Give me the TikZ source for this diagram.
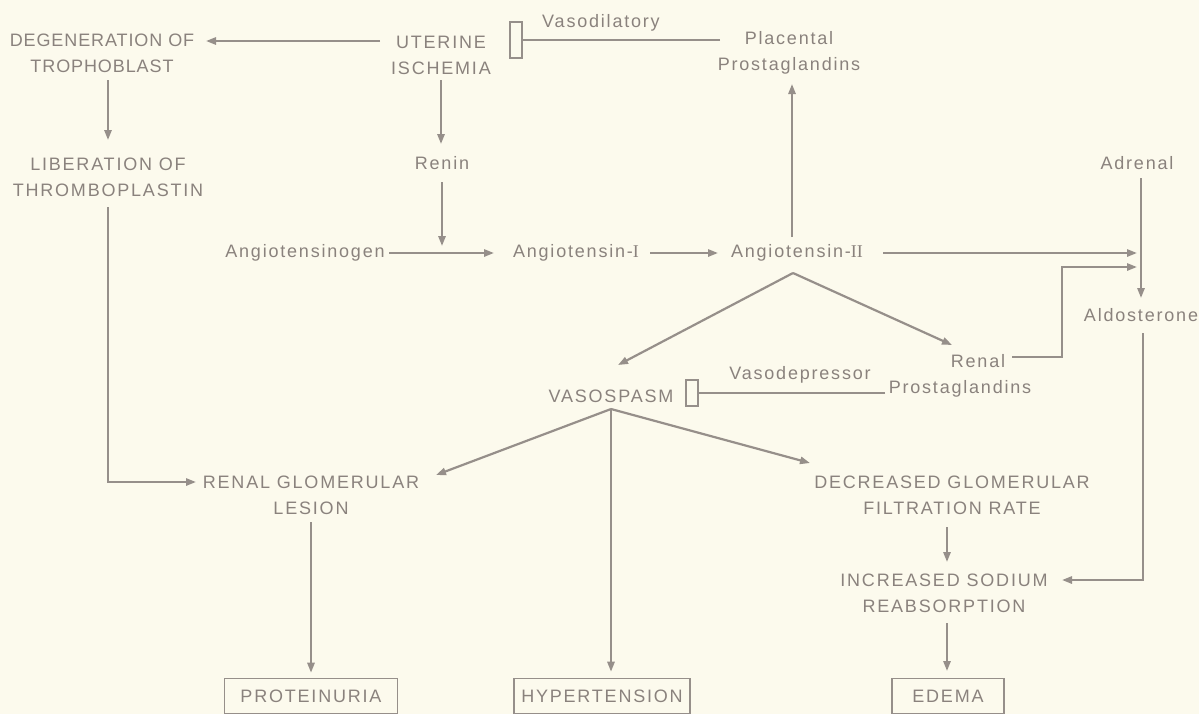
\documentclass[tikz,border=0pt]{standalone}
\usepackage{fontspec}
\setmainfont[LetterSpace=10]{Liberation Sans}
\newfontfamily\romf{Liberation Serif}
\usetikzlibrary{arrows.meta,calc}
\definecolor{bgc}{RGB}{252,250,237}
\definecolor{inkc}{RGB}{138,130,125}
\definecolor{linec}{RGB}{150,143,138}
\begin{document}
\begin{tikzpicture}[x=0.5pt,y=-0.5pt,
  every node/.style={text=inkc,font=\fontsize{9}{13}\selectfont,inner sep=0pt,align=center},
  tight/.style={font=\fontsize{9}{13}\selectfont\addfontfeatures{LetterSpace=5}},
  outbox/.style={draw=linec,line width=0.8pt,minimum height=17.5pt},
  ibox/.style={draw=linec,line width=0.8pt,minimum width=6pt},
  conn/.style={draw=linec,line width=1.1pt},
  arr/.style={conn,-{Triangle[length=5pt,width=3.6pt]}}]
\fill[bgc] (0,0) rectangle (1199,714);
\useasboundingbox (0,0) rectangle (1199,714);
% nodes
\node[tight] (deg) at (102,53) {DEGENERATION OF\\TROPHOBLAST};
\node (ut) at (441,55) {UTERINE\\ISCHEMIA};
\node[ibox,minimum height=18pt] (ib1) at (516,40) {};
\node (vdil) at (601,23) {Vasodilatory};
\node (plac) at (789,53) {Placental\\Prostaglandins};
\node (lib) at (108,177) {LIBERATION OF\\THROMBOPLASTIN};
\node (renin) at (442,163) {Renin};
\node (agen) at (305,253) {Angiotensinogen};
\node (a1) at (576,253) {Angiotensin-{\romf I}};
\node (a2) at (797,253) {Angiotensin-{\romf II}};
\node (adr) at (1137,163) {Adrenal};
\node (aldo) at (1141,315) {Aldosterone};
\node (vaso) at (611,396) {VASOSPASM};
\node[ibox,minimum height=13pt] (ib2) at (692,393) {};
\node (vdep) at (800,375) {Vasodepressor};
\node (rp) at (960,376) {\hspace*{18pt}Renal\\Prostaglandins};
\node (rgl) at (311,495) {RENAL GLOMERULAR\\LESION};
\node (dgfr) at (952,495) {DECREASED GLOMERULAR\\FILTRATION RATE};
\node (isr) at (944,593) {INCREASED SODIUM\\REABSORPTION};
\node[outbox,minimum width=86.5pt] (prot) at (311,696) {PROTEINURIA};
\node[outbox,minimum width=88pt] (hyp) at (602,696) {HYPERTENSION};
\node[outbox,minimum width=56pt] (edema) at (948,696) {EDEMA};
% coordinates
\coordinate (apx) at ($(a2)+(-4,20)$);
\coordinate (vpx) at ($(vaso)+(0,13)$);
% connectors
\draw[arr] ($(ut)+(-61,-14)$) -- ($(deg)+(104,-12)$);
\draw[arr] ($(ut)+(0,25)$) -- ($(renin)+(-1,-19)$);
\draw[arr] ($(deg)+(6,27)$) -- ($(lib)+(0,-37)$);
\draw[arr] ($(lib)+(0,30)$) |- ($(rgl)+(-115,-13)$);
\draw[conn] ($(plac)+(-69,-13)$) -- (ib1.east);
\draw[arr] ($(a2)+(-5,-16)$) -- ($(plac)+(3,31)$);
\draw[arr,shorten >=3.5pt] ($(renin)+(0,19)$) -- (renin |- agen);
\draw[arr] ($(agen)+(84,0)$) -- ($(a1)+(-82,0)$);
\draw[arr] ($(a1)+(74,0)$) -- ($(a2)+(-79,0)$);
\draw[arr] ($(a2)+(86,0)$) -- ($(aldo |- a2)+(-4,0)$);
\draw[arr] ($(adr)+(4,15)$) -- ($(aldo)+(0,-17)$);
\draw[arr] ($(rp)+(52,-19)$) -- ($(rp)+(102,-19)$) |- ($(aldo)+(-4,-48)$);
\draw[arr] (apx) -- ($(vaso)+(7,-31)$);
\draw[arr] (apx) -- ($(rp)+(-8,-31)$);
\draw[conn] ($(rp)+(-75,17)$) -- (ib2.east);
\draw[arr] (vpx) -- ($(rgl)+(125,-20)$);
\draw[arr] (vpx) -- ($(dgfr)+(-142,-32)$);
\draw[arr,shorten >=3pt] (vpx) -- (vpx |- hyp.north);
\draw[arr,shorten >=2.5pt] ($(rgl)+(0,27)$) -- (prot.north);
\draw[arr] ($(dgfr)+(-5,32)$) -- ($(isr)+(3,-31)$);
\draw[arr,shorten >=3pt] ($(isr)+(3,30)$) -- ($(isr)+(3,84)$);
\draw[arr] ($(aldo)+(2,18)$) |- ($(isr)+(118,-13)$);
\end{tikzpicture}
\end{document}
